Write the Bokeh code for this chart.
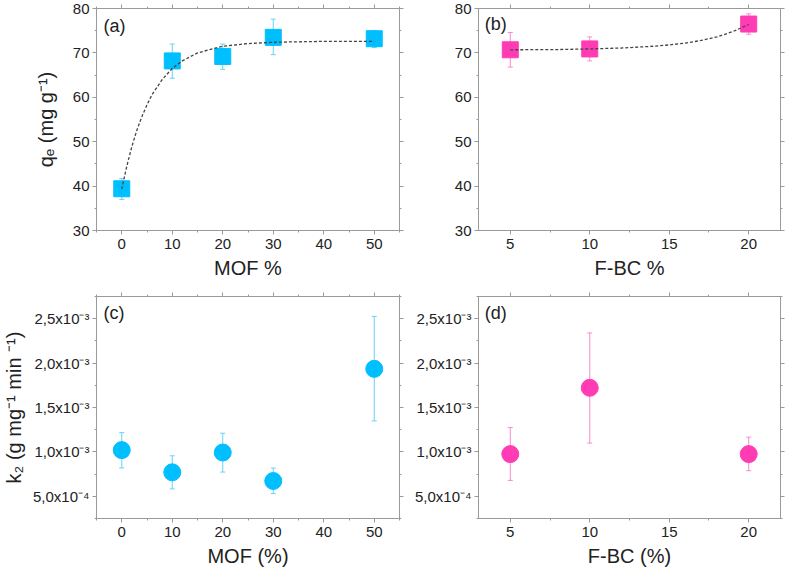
from bokeh.plotting import figure
from bokeh.layouts import column, row
from bokeh.models import (ColumnDataSource, Whisker, TeeHead, FixedTicker,
                          LinearAxis, Range1d, Label)
from bokeh.embed import file_html
from bokeh.resources import INLINE

# ---------------- data ----------------
mof_pct = [0, 10, 20, 30, 50]
qe_mof = [39.4, 68.2, 69.2, 73.5, 73.2]
qe_mof_lo = [37.0, 64.3, 66.3, 69.6, 71.2]
qe_mof_hi = [41.7, 72.0, 72.0, 77.6, 75.0]
fit_mof_x = [0, 1, 2, 3, 4, 5, 6, 8, 10, 12, 15, 20, 25, 30, 40, 50]
fit_mof_y = [39.3, 44.5, 48.9, 52.6, 55.7, 58.3, 60.6, 64.0, 66.5, 68.2, 70.0, 71.5, 72.1, 72.4, 72.6, 72.6]

fbc_pct = [5, 10, 20]
qe_fbc = [70.7, 70.9, 76.5]
qe_fbc_lo = [66.8, 68.2, 74.2]
qe_fbc_hi = [74.6, 73.6, 78.8]
fit_fbc_x = [5, 8, 10, 12, 14, 15, 16, 17, 18, 19, 20]
fit_fbc_y = [70.7, 70.75, 70.9, 71.1, 71.5, 71.8, 72.2, 72.8, 73.6, 74.8, 76.4]

k2_mof = [1.02e-3, 0.77e-3, 0.993e-3, 0.672e-3, 1.935e-3]
k2_mof_lo = [0.82e-3, 0.583e-3, 0.773e-3, 0.530e-3, 1.349e-3]
k2_mof_hi = [1.217e-3, 0.956e-3, 1.21e-3, 0.818e-3, 2.526e-3]

k2_fbc = [0.975e-3, 1.722e-3, 0.975e-3]
k2_fbc_lo = [0.679e-3, 1.099e-3, 0.788e-3]
k2_fbc_hi = [1.274e-3, 2.339e-3, 1.166e-3]

mof_ticks = [0, 10, 20, 30, 40, 50]
mof_minor = [-5, 5, 15, 25, 35, 45, 55]
fbc_ticks = [5, 10, 15, 20]
fbc_minor = [2.5, 7.5, 12.5, 17.5, 22.5]
qe_ticks = [30, 40, 50, 60, 70, 80]
qe_minor = [35, 45, 55, 65, 75]
k2_ticks = [5e-4, 1e-3, 1.5e-3, 2e-3, 2.5e-3]
k2_minor = [2.5e-4, 7.5e-4, 1.25e-3, 1.75e-3, 2.25e-3, 2.75e-3]
k2_labels = ["5,0x10\u207b\u2074", "1,0x10\u207b\u00b3", "1,5x10\u207b\u00b3",
             "2,0x10\u207b\u00b3", "2,5x10\u207b\u00b3"]

# ---------------- style ----------------
FONT = "Liberation Sans"
AX = "#9a9a9a"
TXT = "#222222"
CYAN = "#00BFFF"
CYAN_ERR = "#66D2F8"
PINK = "#FF3CB4"
PINK_ERR = "#F78CCB"


def style_axis(ax, show_labels=True):
    ax.axis_line_color = AX
    ax.major_tick_line_color = AX
    ax.minor_tick_line_color = AX
    ax.major_tick_out = 4
    ax.major_tick_in = 0
    ax.minor_tick_out = 2
    ax.minor_tick_in = 0
    ax.major_label_text_font = FONT
    ax.major_label_text_color = TXT if show_labels else None
    ax.major_label_text_font_size = "15px" if show_labels else "1px"
    ax.axis_label_text_font = FONT
    ax.axis_label_text_color = TXT
    ax.axis_label_text_font_size = "20px"
    ax.axis_label_text_font_style = "normal"


def make(xr, yr, fw, fh, bl, br, bt, bb, xt, xm, yt, ym):
    p = figure(frame_width=fw, frame_height=fh,
               x_range=Range1d(*xr), y_range=Range1d(*yr),
               output_backend="svg", toolbar_location=None,
               min_border_left=bl, min_border_right=br,
               min_border_top=bt, min_border_bottom=bb)
    p.add_layout(LinearAxis(), "above")
    p.add_layout(LinearAxis(), "right")
    for ax in p.xaxis:
        ax.ticker = FixedTicker(ticks=xt, minor_ticks=xm)
    for ax in p.yaxis:
        ax.ticker = FixedTicker(ticks=yt, minor_ticks=ym)
    style_axis(p.below[0])
    style_axis(p.left[0])
    for ax in list(p.above) + list(p.right):
        style_axis(ax, show_labels=False)
        ax.major_label_standoff = 0
    p.below[0].major_label_standoff = 4
    p.left[0].major_label_standoff = 3
    p.grid.visible = False
    p.outline_line_color = AX
    p.background_fill_color = "white"
    p.border_fill_color = "white"
    return p


def add_points(p, x, y, lo, hi, marker, size, color, ecolor):
    src = ColumnDataSource(dict(x=x, y=y, lo=lo, hi=hi))
    w = Whisker(source=src, base="x", upper="hi", lower="lo",
                line_color=ecolor, line_width=1, level="underlay",
                upper_head=TeeHead(size=5, line_color=ecolor, line_width=1),
                lower_head=TeeHead(size=5, line_color=ecolor, line_width=1))
    p.add_layout(w)
    p.scatter("x", "y", source=src, marker=marker, size=size,
              fill_color=color, line_color=color)


def panel_label(p, x, y, t):
    p.add_layout(Label(x=x, y=y, text=t, text_font=FONT, text_font_size="18px",
                       text_color=TXT, text_baseline="middle", text_align="left"))


# ---------------- panel (a) ----------------
pa = make((-5, 55), (30, 80), 303, 222, 96, 10, 8, 50,
          mof_ticks, mof_minor, qe_ticks, qe_minor)
pa.below[0].axis_label = "MOF %"
pa.below[0].axis_label_standoff = 5
pa.left[0].axis_label = "q\u2091 (mg g\u207b\u00b9)"
pa.left[0].axis_label_standoff = 13
add_points(pa, mof_pct, qe_mof, qe_mof_lo, qe_mof_hi, "square", 16, CYAN, CYAN_ERR)
pa.line(fit_mof_x, fit_mof_y, line_color="#444444", line_width=1.3, line_dash="3 2")
panel_label(pa, -3.6, 76.0, "(a)")

# ---------------- panel (b) ----------------
pb = make((3, 22), (30, 80), 302, 222, 69, 6, 8, 50,
          fbc_ticks, fbc_minor, qe_ticks, qe_minor)
pb.below[0].axis_label = "F-BC %"
pb.below[0].axis_label_standoff = 5
add_points(pb, fbc_pct, qe_fbc, qe_fbc_lo, qe_fbc_hi, "square", 16, PINK, PINK_ERR)
pb.line(fit_fbc_x, fit_fbc_y, line_color="#444444", line_width=1.3, line_dash="3 2")
panel_label(pb, 3.4, 76.6, "(b)")

# ---------------- panel (c) ----------------
pc = make((-5, 55), (2.5e-4, 2.75e-3), 303, 222, 96, 10, 15, 50,
          mof_ticks, mof_minor, k2_ticks, k2_minor)
pc.below[0].axis_label = "MOF (%)"
pc.below[0].axis_label_standoff = 5
pc.left[0].axis_label = "k\u2082 (g mg\u207b\u00b9 min \u207b\u00b9)"
pc.left[0].axis_label_standoff = 5
pc.left[0].major_label_overrides = {t: s for t, s in zip(k2_ticks, k2_labels)}
add_points(pc, mof_pct, k2_mof, k2_mof_lo, k2_mof_hi, "circle", 17, CYAN, CYAN_ERR)
panel_label(pc, -3.6, 2.56e-3, "(c)")

# ---------------- panel (d) ----------------
pd = make((3, 22), (2.5e-4, 2.75e-3), 302, 222, 69, 6, 15, 50,
          fbc_ticks, fbc_minor, k2_ticks, k2_minor)
pd.below[0].axis_label = "F-BC (%)"
pd.below[0].axis_label_standoff = 5
pd.left[0].major_label_overrides = {t: s for t, s in zip(k2_ticks, k2_labels)}
add_points(pd, fbc_pct, k2_fbc, k2_fbc_lo, k2_fbc_hi, "circle", 17, PINK, PINK_ERR)
panel_label(pd, 3.4, 2.56e-3, "(d)")

layout = column(row(pa, pb), row(pc, pd))

open("out.html", "w").write(file_html(layout, INLINE))
